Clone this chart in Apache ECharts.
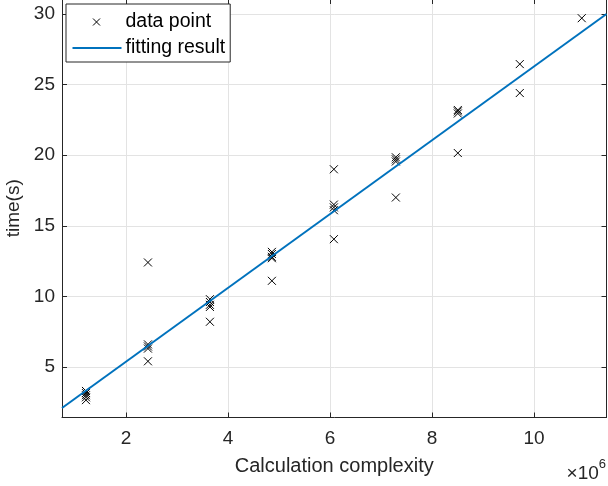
<!DOCTYPE html>
<html>
<head>
<meta charset="utf-8">
<script src="https://cdn.jsdelivr.net/npm/echarts@6/dist/echarts.min.js"></script>
<style>
  html, body { margin: 0; padding: 0; background: #fff; }
  #chart { width: 608px; height: 486px; }
</style>
</head>
<body>
<div id="chart"></div>
<script>
// Calculation complexity (in units of 1e6) and measured run time in seconds
const complexity = [
  1.215, 1.215, 1.215, 1.215, 1.215,
  2.43, 2.43, 2.43, 2.43, 2.43,
  3.645, 3.645, 3.645, 3.645, 3.645,
  4.86, 4.86, 4.86, 4.86, 4.86,
  6.075, 6.075, 6.075, 6.075, 6.075,
  7.29, 7.29, 7.29, 7.29,
  8.505, 8.505, 8.505, 8.505,
  9.72, 9.72,
  10.935
];
const timeSec = [
  3.3, 3.15, 3.0, 2.85, 2.65,
  12.4, 6.6, 6.45, 6.3, 5.4,
  9.8, 9.6, 9.4, 9.25, 8.2,
  13.15, 13.0, 12.8, 12.7, 11.1,
  19.0, 16.5, 16.3, 16.1, 14.05,
  19.85, 19.7, 19.55, 17.0,
  23.2, 23.1, 22.95, 20.15,
  26.45, 24.4,
  29.7
];
// End points of the fitted straight line
const fitX = [0.745, 11.42];
const fitY = [2.09, 30.0];

const xTicks = [2, 4, 6, 8, 10];
const yTicks = [5, 10, 15, 20, 25, 30];

const X_MIN = 0.745, X_MAX = 11.42;
const Y_MIN = 1.42, Y_MAX = 31.06;

const TXT = '#262626';
const FONT = 'Liberation Sans';
const crossPath = 'path://M0,0L10,10M10,0L0,10';
// legend icons padded with zero-length corner segments so they keep their drawn size
const crossLegend = 'path://M0,0L0,0M49,16L49,16M20.5,4.5L27.5,11.5M27.5,4.5L20.5,11.5';
const lineLegend = 'path://M0,0L0,0M49,16L49,16M0,7L49,7L49,9L0,9Z';

const chart = echarts.init(document.getElementById('chart'), null, { renderer: 'canvas' });

const tickStyle = { show: true, inside: true, length: 5, lineStyle: { color: TXT, width: 1 } };
const lineStyleAxis = { show: true, onZero: false, lineStyle: { color: TXT, width: 1 } };

chart.setOption({
  animation: false,
  backgroundColor: '#fff',
  textStyle: { fontFamily: FONT },
  grid: { left: 62, right: 1.5, top: -1, bottom: 68.5, containLabel: false, outerBoundsMode: 'none' },
  xAxis: [
    {
      type: 'value', min: X_MIN, max: X_MAX, position: 'bottom',
      axisLine: lineStyleAxis,
      axisTick: Object.assign({}, tickStyle, { customValues: xTicks }),
      axisLabel: { show: true, color: TXT, fontSize: 19, margin: 12, fontFamily: FONT, customValues: xTicks },
      splitLine: { show: true, lineStyle: { color: '#e3e3e3', width: 1 } },
      name: 'Calculation complexity', nameLocation: 'middle', nameGap: 39,
      nameTextStyle: { color: TXT, fontSize: 20, fontFamily: FONT }
    },
    {
      type: 'value', min: X_MIN, max: X_MAX, position: 'top',
      axisLine: lineStyleAxis,
      axisTick: Object.assign({}, tickStyle, { customValues: xTicks }),
      axisLabel: { show: false },
      splitLine: { show: false }
    }
  ],
  yAxis: [
    {
      type: 'value', min: Y_MIN, max: Y_MAX, position: 'left',
      axisLine: lineStyleAxis,
      axisTick: Object.assign({}, tickStyle, { customValues: yTicks }),
      axisLabel: { show: true, color: TXT, fontSize: 19, margin: 7, fontFamily: FONT, customValues: yTicks },
      splitLine: { show: true, lineStyle: { color: '#e3e3e3', width: 1 } },
      name: 'time(s)', nameLocation: 'middle', nameGap: 35, nameRotate: 90,
      nameTextStyle: { color: TXT, fontSize: 19, fontFamily: FONT }
    },
    {
      type: 'value', min: Y_MIN, max: Y_MAX, position: 'right',
      axisLine: lineStyleAxis,
      axisTick: Object.assign({}, tickStyle, { customValues: yTicks }),
      axisLabel: { show: false },
      splitLine: { show: false }
    }
  ],
  legend: {
    orient: 'vertical', left: 66, top: 4,
    backgroundColor: '#fff', borderColor: TXT, borderWidth: 1,
    padding: [8, 5, 4, 6],
    itemWidth: 49, itemHeight: 16, itemGap: 6,
    textStyle: { color: '#000', fontSize: 19.5, lineHeight: 16, fontFamily: FONT, padding: [0, 0, 0, -1] },
    data: [
      {
        name: 'data point', icon: crossLegend,
        itemStyle: { color: 'rgba(0,0,0,0)', borderColor: '#000', borderWidth: 1 }
      },
      {
        name: 'fitting result', icon: lineLegend,
        itemStyle: { color: '#0072BD', borderWidth: 0 }
      }
    ]
  },
  graphic: [{
    type: 'text', right: 2, bottom: 3,
    style: {
      text: '{a|\u00d710}{b|6}',
      rich: {
        a: { fontSize: 19, fontFamily: FONT, fill: TXT, verticalAlign: 'bottom' },
        b: { fontSize: 13, fontFamily: FONT, fill: TXT, verticalAlign: 'top', padding: [0, 0, 12, 0] }
      }
    }
  }],
  series: [
    {
      name: 'data point', type: 'scatter',
      symbol: crossPath, symbolSize: 8,
      itemStyle: { color: 'rgba(0,0,0,0)', borderColor: '#000', borderWidth: 1, opacity: 1 },
      data: complexity.map((c, i) => [c, timeSec[i]]),
      z: 3
    },
    {
      name: 'fitting result', type: 'line',
      symbol: 'none', showSymbol: false,
      lineStyle: { color: '#0072BD', width: 2 },
      itemStyle: { color: '#0072BD' },
      data: fitX.map((x, i) => [x, fitY[i]]),
      z: 4
    }
  ]
});
</script>
</body>
</html>
